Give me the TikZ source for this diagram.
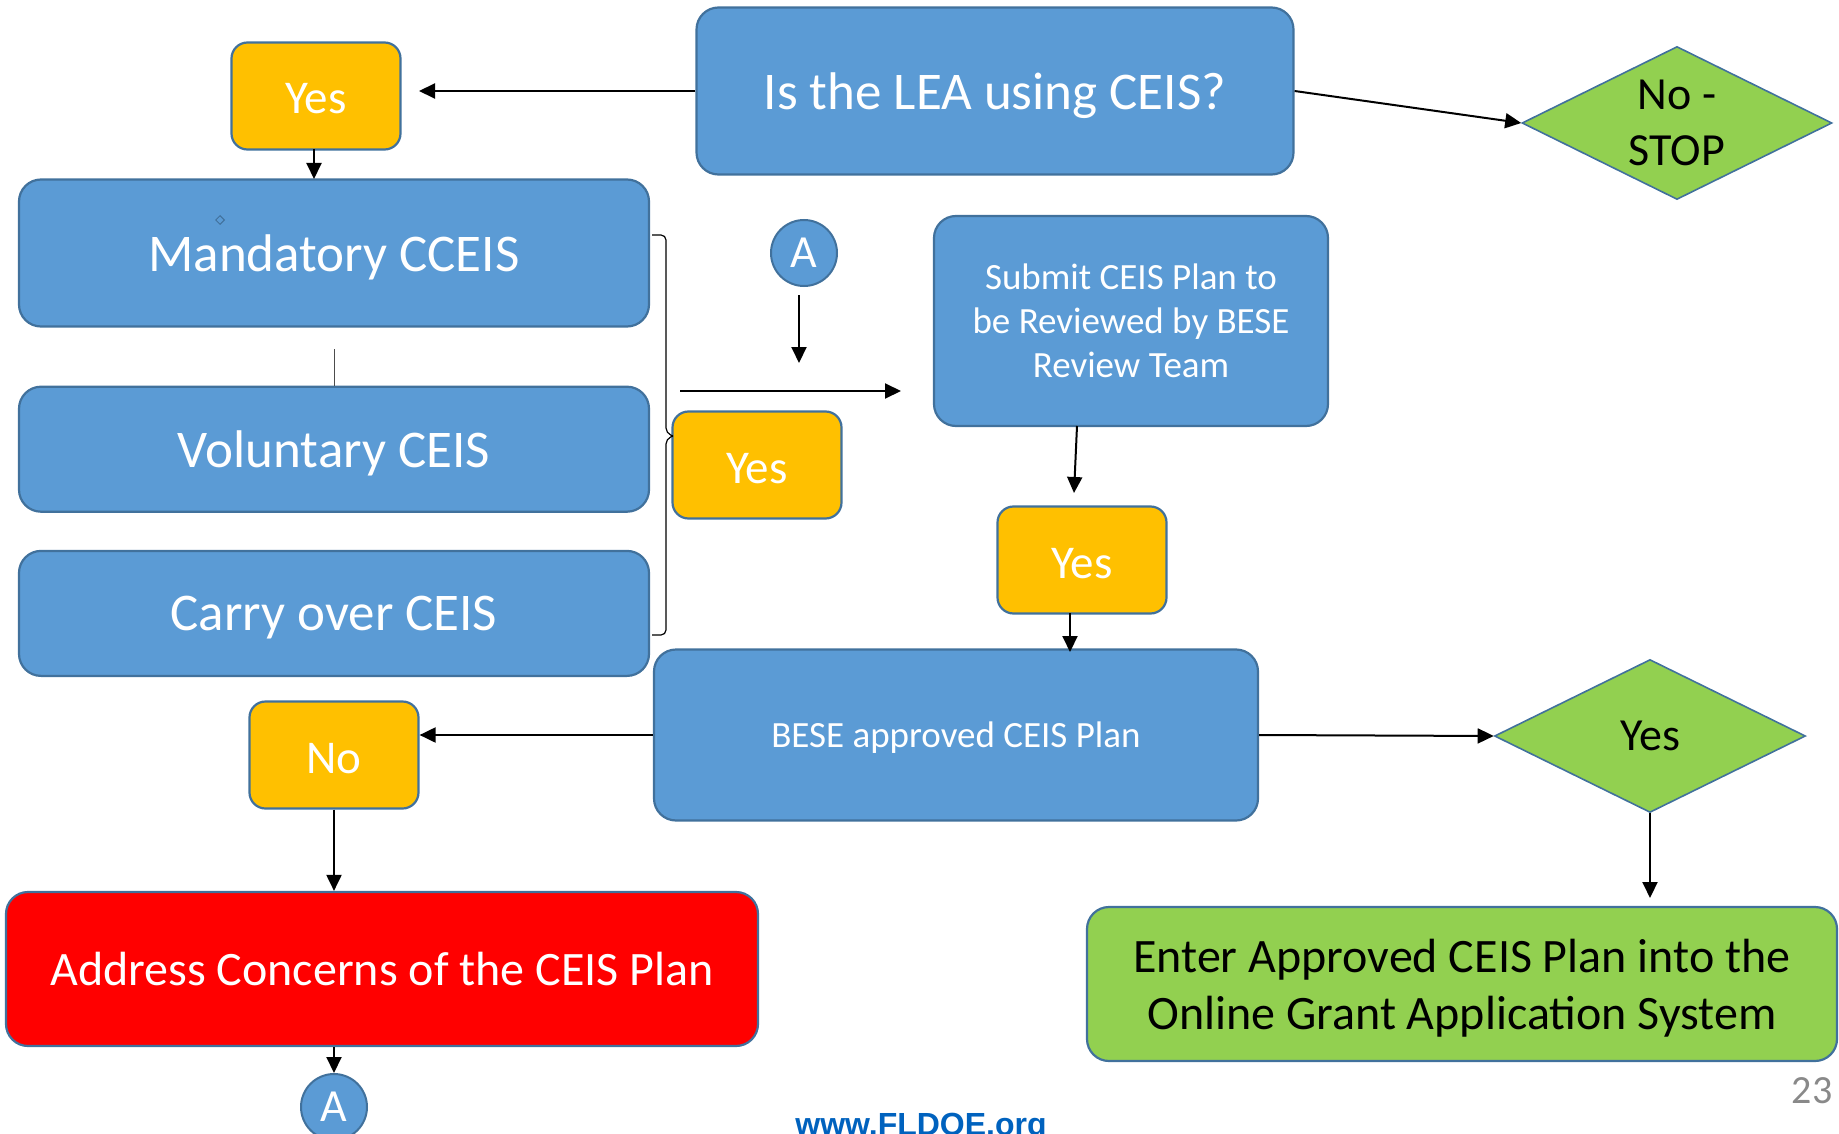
\documentclass[tikz,border=0pt]{standalone}
\usepackage{fontspec}
\setmainfont{Carlito}
\newfontfamily\webfont{Liberation Sans}
\usepackage{tikz}
\usetikzlibrary{positioning,shapes.geometric,arrows.meta,calc}

\definecolor{boxblue}{RGB}{91,155,213}
\definecolor{edgeblue}{RGB}{65,113,156}
\definecolor{boxyellow}{RGB}{255,192,0}
\definecolor{boxgreen}{RGB}{146,208,80}
\definecolor{boxred}{RGB}{255,0,0}
\definecolor{webblue}{RGB}{0,98,190}
\definecolor{pagegray}{RGB}{137,137,137}

\newcommand{\ftitle}{\fontsize{53}{64}\selectfont}
\newcommand{\fyes}{\fontsize{47}{56}\selectfont}
\newcommand{\fplan}{\fontsize{37}{44}\selectfont}
\newcommand{\fwide}{\fontsize{48}{57}\selectfont}

\tikzset{
  blk/.style={rectangle, rounded corners=22pt, draw=edgeblue, line width=2.2pt,
    fill=boxblue, text=white, inner sep=0pt, align=center, text depth=0pt},
  yesbox/.style={blk, fill=boxyellow, rounded corners=16pt,
    minimum width=169pt, minimum height=107pt, font=\fyes, text height=36pt},
  dec/.style={diamond, aspect=2, draw=edgeblue, line width=1.6pt, fill=boxgreen,
    inner sep=0pt, align=center, text=black, text depth=0pt},
  letter/.style={circle, draw=edgeblue, line width=2pt, fill=boxblue, text=white,
    inner sep=0pt, minimum size=66pt, font=\fontsize{46}{55}\selectfont},
  conn/.style={-{Triangle[length=16pt,width=15pt]}, line width=2pt},
}

\begin{document}
\begin{tikzpicture}[x=1pt,y=-1pt]
  \useasboundingbox (0,0) rectangle (1839,1134);

	  \node[blk, minimum width=597pt, minimum height=167pt, font=\ftitle] (lea) at (995,91) {Is the LEA using CEIS?} ; %
	  \node[dec, minimum width=310pt, minimum height=153pt, font=\fontsize{46}{56}\selectfont] (stop) at (1677,123) {No -\\STOP};
          \node[yesbox] (yes1) at (316,96) {Yes} ; %

          \node[blk, minimum width=630pt, minimum height=147pt, font=\ftitle] (mand) at (334,253) {Mandatory CCEIS};
          \node[blk, minimum width=630pt, minimum height=125pt, font=\ftitle, below=58pt of mand] (vol) {Voluntary CEIS};
          \node[blk, minimum width=630pt, minimum height=125pt, font=\ftitle, below=37pt of vol] (carry) {Carry over CEIS};
          \node[diamond, draw=edgeblue, line width=1pt, inner sep=0pt, minimum size=9pt] (mark) at (220,220) {};

          \node[yesbox] (yes2) at (757,465) {Yes};
          \node[letter] (atop) at (804,253) {A};
          \node[blk, minimum width=394pt, minimum height=210pt, font=\fplan] (submit) at (1131,321) {Submit CEIS Plan to\\be Reviewed by BESE\\Review Team};
          \node[yesbox] (yes3) at (1082,560) {Yes};

          \node[blk, minimum width=604pt, minimum height=171pt, font=\fplan] (bese) at (956,735) {BESE approved CEIS Plan};
          \node[yesbox] (no) at (334,755) {No};
          \node[blk, fill=boxred, minimum width=752pt, minimum height=154pt, font=\fwide] (addr) at (382,969) {Address Concerns of the CEIS Plan};
          \node[letter] (abot) at (334,1107) {A};

          \node[dec, minimum width=311pt, minimum height=153pt, font=\fontsize{46}{56}\selectfont] (ok) at (1650,736) {Yes};
          \node[blk, fill=boxgreen, text=black, minimum width=750pt, minimum height=154pt, font=\fwide] (enter) at (1462,984) {Enter Approved CEIS Plan into the\\Online Grant Application System};

          \node[text=pagegray, font=\fontsize{40}{48}\selectfont] (page) at (1812,1091) {23};
          \node[text=webblue, font=\webfont\bfseries\fontsize{32}{38}\selectfont] (web) at (921,1128) {www.FLDOE.org};

          % loose ends
          \coordinate (yes1in) at (419,91);
          \coordinate (yes1out) at (314,149);
          \coordinate (mandin) at (314,179);
          \coordinate (thinfrom) at (334,349);
          \coordinate (joinfrom) at (680,391);
          \coordinate (jointo) at (901,391);
          \coordinate (afrom) at (799,295);
          \coordinate (ato) at (799,363);
          \coordinate (subout) at (1077,426);
          \coordinate (yes3in) at (1074,493);
          \coordinate (yes3out) at (1070,613);
          \coordinate (besein) at (1070,652);
          \coordinate (enterin) at (1650,898);

          \draw[conn] (lea.west) -- (yes1in) ;
          \draw[conn] (lea.east) -- (stop.west) ;
          \draw[conn] (yes1out) -- (mandin) ;
          \draw[line width=1pt, black!70] (thinfrom) -- (vol.north) ;
          \draw[line width=1.2pt, rounded corners=5pt]
            (652,235) -- (666,235) -- (666,433) -- (673,436)
            (673,436) -- (666,439) -- (666,635) -- (652,635) ;
          \draw[conn] (joinfrom) -- (jointo) ;
          \draw[conn] (afrom) -- (ato) ;
          \draw[conn] (subout) -- (yes3in) ;
          \draw[conn] (yes3out) -- (besein) ;
          \draw[conn] (bese.west) -- (bese.west -| no.east) ;
          \draw[conn] (no.south) -- (no.south |- addr.north) ;
          \draw[conn] (addr.south -| abot) -- (abot.north) ;
          \draw[conn] (bese.east) -- (ok.west) ;
          \draw[conn] (ok.south) -- (enterin) ;

\end{tikzpicture}
\end{document}
